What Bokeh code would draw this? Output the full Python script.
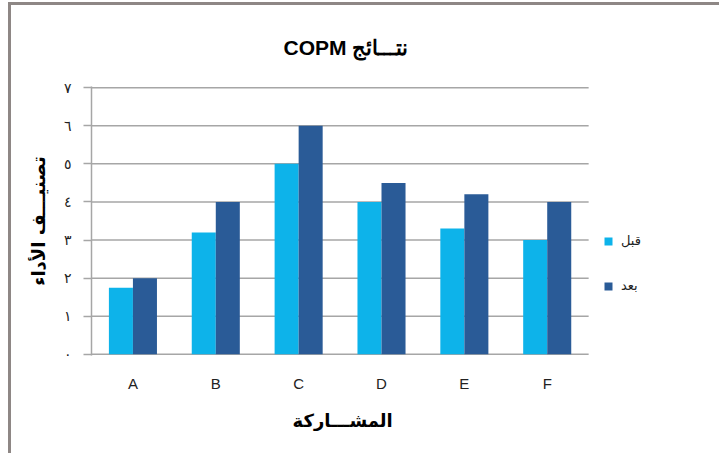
import numpy as np
from bokeh.plotting import figure
from bokeh.models import Range1d, Legend, LegendItem, FixedTicker, ColumnDataSource, Title
from bokeh.transform import dodge
from bokeh.embed import file_html
from bokeh.resources import INLINE

# ---- data ----
participants = ["A", "B", "C", "D", "E", "F"]
before = [1.75, 3.2, 5.0, 4.0, 3.3, 3.0]
after = [2.0, 4.0, 6.0, 4.5, 4.2, 4.0]
y_ticks = [0, 1, 2, 3, 4, 5, 6, 7]
y_tick_labels = ["٠", "١", "٢", "٣", "٤", "٥", "٦", "٧"]
series_labels = ["قبل", "بعد"]
title_text = "COPM  نتـــائج"
x_label = "المشـــاركة"
y_label = "تصنيـــف الأداء"

C_BEFORE = "#0db3ea"
C_AFTER = "#2a5b97"
GRID = "#a6a6a6"
BORDER = "#8e8785"

n = len(participants)
xpos = np.arange(n) + 0.5
src = ColumnDataSource(dict(x=xpos, cat=participants, before=before, after=after))

W, H = 711, 451
p = figure(
    width=W, height=H,
    x_range=Range1d(0, 7.35),
    y_range=Range1d(-0.03, 7.03),
    output_backend="svg", toolbar_location=None,
    min_border_left=80, min_border_right=22,
    min_border_top=81, min_border_bottom=H - 350,
)
p.styles = {
    "margin-top": "2px",
    "margin-left": "8px",
    "border-top": f"3px solid {BORDER}",
    "border-left": f"3px solid {BORDER}",
}
p.outline_line_color = None
p.background_fill_color = "white"
p.border_fill_color = "white"

# horizontal grid lines spanning only the category area
p.segment(x0=[0] * len(y_ticks), x1=[n] * len(y_ticks), y0=y_ticks, y1=y_ticks,
          line_color=GRID, line_width=1.5)

r1 = p.vbar(x=dodge("x", -0.145), top="before", width=0.29,
            source=src, fill_color=C_BEFORE, line_color=None)
r2 = p.vbar(x=dodge("x", 0.145), top="after", width=0.29,
            source=src, fill_color=C_AFTER, line_color=None)

# title
p.title.text = title_text
p.title.align = "left"
p.title.offset = 192
p.title.standoff = 56
p.title.text_font = "Liberation Sans"
p.title.text_font_size = "21px"
p.title.text_font_style = "bold"
p.title.text_color = "black"

p.xgrid.grid_line_color = None
p.ygrid.grid_line_color = None

# y axis
ya = p.yaxis[0]
ya.ticker = FixedTicker(ticks=y_ticks)
ya.major_label_overrides = {t: l for t, l in zip(y_ticks, y_tick_labels)}
ya.axis_line_color = GRID
ya.axis_line_width = 1.5
ya.major_tick_line_color = GRID
ya.major_tick_line_width = 1.5
ya.major_tick_out = 8
ya.major_tick_in = 0
ya.minor_tick_line_color = None
ya.major_label_standoff = 12
ya.major_label_text_font = "DejaVu Sans"
ya.major_label_text_font_size = "14px"
ya.major_label_text_color = "#222222"
ya.axis_label = y_label
ya.axis_label_text_font = "DejaVu Sans"
ya.axis_label_text_font_size = "18px"
ya.axis_label_text_font_style = "bold"
ya.axis_label_text_color = "black"
ya.axis_label_standoff = 12

# x axis
xa = p.xaxis[0]
xa.ticker = FixedTicker(ticks=list(xpos))
xa.major_label_overrides = {float(x): c for x, c in zip(xpos, participants)}
xa.axis_line_color = None
xa.major_tick_line_color = None
xa.minor_tick_line_color = None
xa.major_tick_out = 0
xa.major_label_standoff = 19
xa.major_label_text_font = "Liberation Sans"
xa.major_label_text_font_size = "15px"
xa.major_label_text_color = "#222222"

# x-axis title, placed under the category area
xt = Title(text=x_label, align="left", offset=201, standoff=26,
           text_font="DejaVu Sans", text_font_size="18px",
           text_font_style="bold", text_color="black")
p.add_layout(xt, "below")

legend = Legend(
    items=[LegendItem(label=series_labels[0], renderers=[r1]),
           LegendItem(label=series_labels[1], renderers=[r2])],
    location=(512, 62), orientation="vertical",
    glyph_width=10, glyph_height=10, label_height=15, spacing=30,
    padding=0, margin=0, label_standoff=8,
    border_line_color=None, background_fill_alpha=0,
    label_text_font="DejaVu Sans", label_text_font_size="13px",
    label_text_color="#222222",
)
p.add_layout(legend)

open("out.html", "w").write(file_html(p, INLINE))
